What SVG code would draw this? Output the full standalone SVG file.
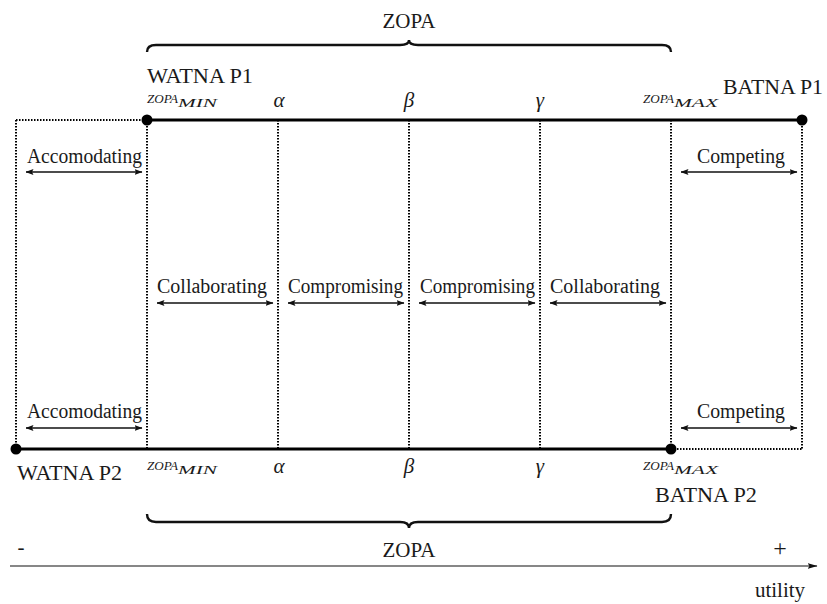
<svg xmlns="http://www.w3.org/2000/svg" width="827" height="604" viewBox="0 0 827 604">
<style>
text{font-family:"Liberation Serif","Times New Roman",serif;fill:#1a1a1a}
.lbl{font-size:20.5px}
.big{font-size:21px}
.gr{font-size:21px;font-style:italic}
.zs{font-size:12px;font-style:italic}
.zb{font-size:12.5px;font-style:italic}
.dot{stroke:#000;stroke-width:2;stroke-dasharray:1.5 1.5;fill:none}
.thick{stroke:#000;stroke-width:3;fill:none}
.arr{stroke:#111;stroke-width:1.3;fill:none;marker-start:url(#ah);marker-end:url(#ah)}
.brace{stroke:#111;stroke-width:2.4;fill:none}
</style>
<defs>
<marker id="ah" viewBox="0 0 8 6" refX="7.5" refY="3" markerWidth="8" markerHeight="6" markerUnits="userSpaceOnUse" orient="auto-start-reverse">
<path d="M0,0 L8,3 L0,6 L1.5,3 z" fill="#111"/>
</marker>
<marker id="axh" viewBox="0 0 10 6" refX="9.5" refY="3" markerWidth="10" markerHeight="6" markerUnits="userSpaceOnUse" orient="auto">
<path d="M0,0 L10,3 L0,6 L2,3 z" fill="#111"/>
</marker>
</defs>

<g id="grid">
<line class="dot" x1="16" y1="120" x2="147" y2="120"/>
<line class="dot" x1="671" y1="449" x2="802" y2="449"/>
<line class="dot" x1="16" y1="120" x2="16" y2="449"/>
<line class="dot" x1="147" y1="120" x2="147" y2="449"/>
<line class="dot" x1="278" y1="120" x2="278" y2="449"/>
<line class="dot" x1="409" y1="120" x2="409" y2="449"/>
<line class="dot" x1="540" y1="120" x2="540" y2="449"/>
<line class="dot" x1="671" y1="120" x2="671" y2="449"/>
<line class="dot" x1="802" y1="120" x2="802" y2="449"/>
</g>

<g id="line-p1">
<line class="thick" x1="147" y1="120" x2="802" y2="120"/>
<circle cx="147" cy="120" r="5.5" fill="#000"/>
<circle cx="802" cy="120" r="5.5" fill="#000"/>
</g>

<g id="line-p2">
<line class="thick" x1="16" y1="449" x2="671" y2="449"/>
<circle cx="16" cy="449" r="5.5" fill="#000"/>
<circle cx="671" cy="449" r="5.5" fill="#000"/>
</g>

<g id="zopa-top">
<path class="brace" d="M147,52 Q147,45 156,45 L400,45 Q409,45 409,40 Q409,45 418,45 L662,45 Q671,45 671,52"/>
<text class="big" x="409" y="28" text-anchor="middle">ZOPA</text>
</g>

<g id="zopa-bottom">
<path class="brace" d="M147,514 Q147,522 156,522 L400,522 Q409,522 409,528 Q409,522 418,522 L662,522 Q671,522 671,514"/>
<text class="big" x="409" y="557" text-anchor="middle">ZOPA</text>
</g>

<g id="labels-p1">
<text class="big" x="147" y="83" textLength="106" lengthAdjust="spacingAndGlyphs">WATNA P1</text>
<text class="big" x="723" y="94" textLength="100" lengthAdjust="spacingAndGlyphs">BATNA P1</text>
<text x="147" y="103"><tspan class="zs" textLength="31" lengthAdjust="spacingAndGlyphs">ZOPA</tspan><tspan class="zb" dy="4" textLength="39" lengthAdjust="spacingAndGlyphs">MIN</tspan></text>
<text x="643" y="103"><tspan class="zs" textLength="31" lengthAdjust="spacingAndGlyphs">ZOPA</tspan><tspan class="zb" dy="4" textLength="44" lengthAdjust="spacingAndGlyphs">MAX</tspan></text>
<text class="gr" x="279" y="107" text-anchor="middle">α</text>
<text class="gr" x="409" y="107" text-anchor="middle">β</text>
<text class="gr" x="540" y="107" text-anchor="middle">γ</text>
</g>

<g id="labels-p2">
<text class="big" x="17" y="480" textLength="105" lengthAdjust="spacingAndGlyphs">WATNA P2</text>
<text class="big" x="655" y="502" textLength="102" lengthAdjust="spacingAndGlyphs">BATNA P2</text>
<text x="147" y="470"><tspan class="zs" textLength="31" lengthAdjust="spacingAndGlyphs">ZOPA</tspan><tspan class="zb" dy="4" textLength="39" lengthAdjust="spacingAndGlyphs">MIN</tspan></text>
<text x="643" y="470"><tspan class="zs" textLength="31" lengthAdjust="spacingAndGlyphs">ZOPA</tspan><tspan class="zb" dy="4" textLength="44" lengthAdjust="spacingAndGlyphs">MAX</tspan></text>
<text class="gr" x="279" y="473" text-anchor="middle">α</text>
<text class="gr" x="409" y="473" text-anchor="middle">β</text>
<text class="gr" x="540" y="473" text-anchor="middle">γ</text>
</g>

<g id="styles">
<text class="lbl" x="27" y="163" textLength="115" lengthAdjust="spacingAndGlyphs">Accomodating</text>
<text class="lbl" x="697" y="163" textLength="88" lengthAdjust="spacingAndGlyphs">Competing</text>
<text class="lbl" x="157" y="293" textLength="110" lengthAdjust="spacingAndGlyphs">Collaborating</text>
<text class="lbl" x="288" y="293" textLength="115" lengthAdjust="spacingAndGlyphs">Compromising</text>
<text class="lbl" x="420" y="293" textLength="115" lengthAdjust="spacingAndGlyphs">Compromising</text>
<text class="lbl" x="550" y="293" textLength="110" lengthAdjust="spacingAndGlyphs">Collaborating</text>
<text class="lbl" x="27" y="418" textLength="115" lengthAdjust="spacingAndGlyphs">Accomodating</text>
<text class="lbl" x="697" y="418" textLength="88" lengthAdjust="spacingAndGlyphs">Competing</text>
</g>

<g id="connectors">
<line class="arr" x1="26" y1="172" x2="142" y2="172"/>
<line class="arr" x1="681" y1="172" x2="797" y2="172"/>
<line class="arr" x1="157" y1="303" x2="273" y2="303"/>
<line class="arr" x1="288" y1="303" x2="404" y2="303"/>
<line class="arr" x1="419" y1="303" x2="535" y2="303"/>
<line class="arr" x1="550" y1="303" x2="666" y2="303"/>
<line class="arr" x1="26" y1="428" x2="142" y2="428"/>
<line class="arr" x1="681" y1="428" x2="797" y2="428"/>
</g>

<g id="axis">
<line x1="10" y1="566" x2="817" y2="566" stroke="#111" stroke-width="1.2" marker-end="url(#axh)"/>
<text class="big" x="21" y="554" text-anchor="middle">-</text>
<text x="780" y="556" text-anchor="middle" style="font-size:24px">+</text>
<text class="big" x="780" y="597" text-anchor="middle">utility</text>
</g>
</svg>
